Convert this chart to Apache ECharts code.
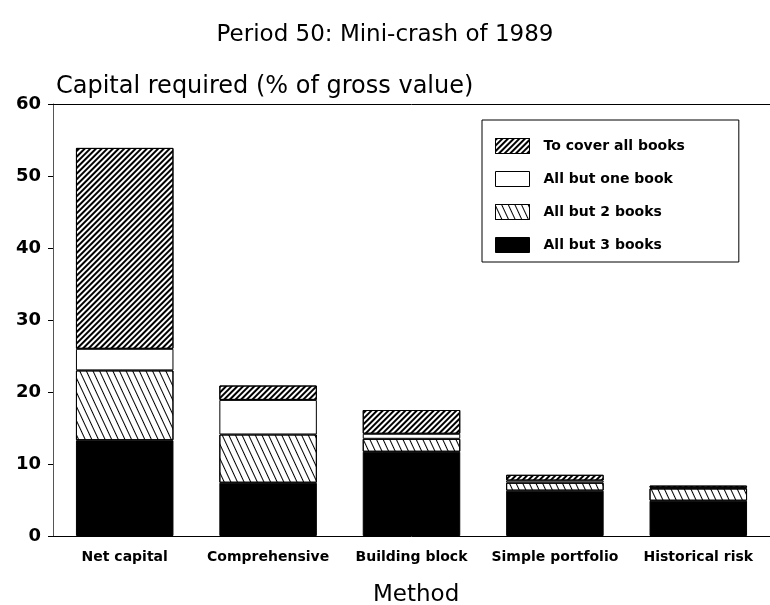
<!DOCTYPE html>
<html style="height: 100%">
   <head>
       <meta charset="utf-8">
   </head>
   <body style="height: 100%; margin: 0; background: #fff">
       <div id="container" style="height: 100%"></div>
       <script type="text/javascript" src="https://cdn.jsdelivr.net/npm/echarts@6/dist/echarts.min.js"></script>
       <script type="text/javascript">
var methods = ['Net capital', 'Comprehensive', 'Building block', 'Simple portfolio', 'Historical risk'];
// stacked segment sizes, bottom to top
var allBut3 = [13.3, 7.4, 11.7, 6.3, 4.9];
var allBut2 = [9.7, 6.7, 1.8, 1.1, 1.7];
var allButOne = [3.0, 4.8, 0.7, 0.3, 0.1];
var coverAll = [27.9, 2.0, 3.3, 0.8, 0.3];
var yTicks = [0, 60, 10];

var font = 'DejaVu Sans, Verdana, sans-serif';

var dom = document.getElementById("container");
var myChart = echarts.init(dom);

var option = {
    backgroundColor: '#fff',
    animation: false,
    title: [
        {
            text: 'Period 50: Mini-crash of 1989',
            left: 'center',
            top: 19,
            textStyle: {fontFamily: font, fontSize: 23, fontWeight: 'normal', color: '#000'}
        },
        {
            text: 'Capital required (% of gross value)',
            left: 51,
            top: 70,
            textStyle: {fontFamily: font, fontSize: 24, fontWeight: 'normal', color: '#000'}
        },
        {
            text: 'Method',
            left: 368,
            top: 579,
            textStyle: {fontFamily: font, fontSize: 23, fontWeight: 'normal', color: '#000'}
        }
    ],
    legend: {
        data: ['To cover all books', 'All but one book', 'All but 2 books', 'All but 3 books'],
        orient: 'vertical',
        left: 482,
        top: 120,
        padding: [18, 54, 9, 13],
        backgroundColor: '#fff',
        borderColor: '#000',
        borderWidth: 1,
        borderRadius: 0,
        icon: 'rect',
        itemWidth: 34,
        itemHeight: 15,
        itemGap: 17,
        textStyle: {fontFamily: font, fontSize: 14, fontWeight: 'bold', color: '#000', padding: [0, 0, 0, 9]},
        itemStyle: {borderColor: '#000', borderWidth: 1}
    },
    grid: {left: 53, right: 0, top: 104, bottom: 69},
    xAxis: [
        {
            type: 'category',
            data: methods,
            axisLine: {lineStyle: {color: '#000', width: 1}},
            axisTick: {alignWithLabel: true, length: 5, lineStyle: {color: '#000'}},
            axisLabel: {fontFamily: font, fontSize: 14, fontWeight: 'bold', color: '#000', margin: 14, interval: 0}
        },
        {
            type: 'category',
            position: 'top',
            data: methods,
            axisLine: {lineStyle: {color: '#000', width: 1}},
            axisTick: {show: false},
            axisLabel: {show: false}
        }
    ],
    yAxis: {
        type: 'value',
        min: yTicks[0],
        max: yTicks[1],
        interval: yTicks[2],
        axisLine: {show: true, lineStyle: {color: '#555', width: 1}},
        axisTick: {show: true, length: 5, lineStyle: {color: '#000'}},
        splitLine: {show: false},
        axisLabel: {fontFamily: font, fontSize: 18, fontWeight: 'bold', color: '#000', margin: 12}
    },
    series: [
        {
            name: 'All but 3 books',
            type: 'bar',
            stack: 'cap',
            barWidth: '68%',
            itemStyle: {color: '#000', borderColor: '#000', borderWidth: 1},
            data: allBut3
        },
        {
            name: 'All but 2 books',
            type: 'bar',
            stack: 'cap',
            itemStyle: {
                color: '#fff', borderColor: '#000', borderWidth: 1,
                decal: {
                    symbol: 'rect',
                    color: '#000',
                    dashArrayX: [1, 0],
                    dashArrayY: [1, 4.5],
                    rotation: Math.PI * 65 / 180
                }
            },
            data: allBut2
        },
        {
            name: 'All but one book',
            type: 'bar',
            stack: 'cap',
            itemStyle: {color: '#fff', borderColor: '#000', borderWidth: 1},
            data: allButOne
        },
        {
            name: 'To cover all books',
            type: 'bar',
            stack: 'cap',
            itemStyle: {
                color: '#fff', borderColor: '#000', borderWidth: 1,
                decal: {
                    symbol: 'rect',
                    color: '#000',
                    dashArrayX: [1, 0],
                    dashArrayY: [1.6, 1.4],
                    rotation: -Math.PI / 4
                }
            },
            data: coverAll
        }
    ]
};
myChart.setOption(option, true);
       </script>
   </body>
</html>
